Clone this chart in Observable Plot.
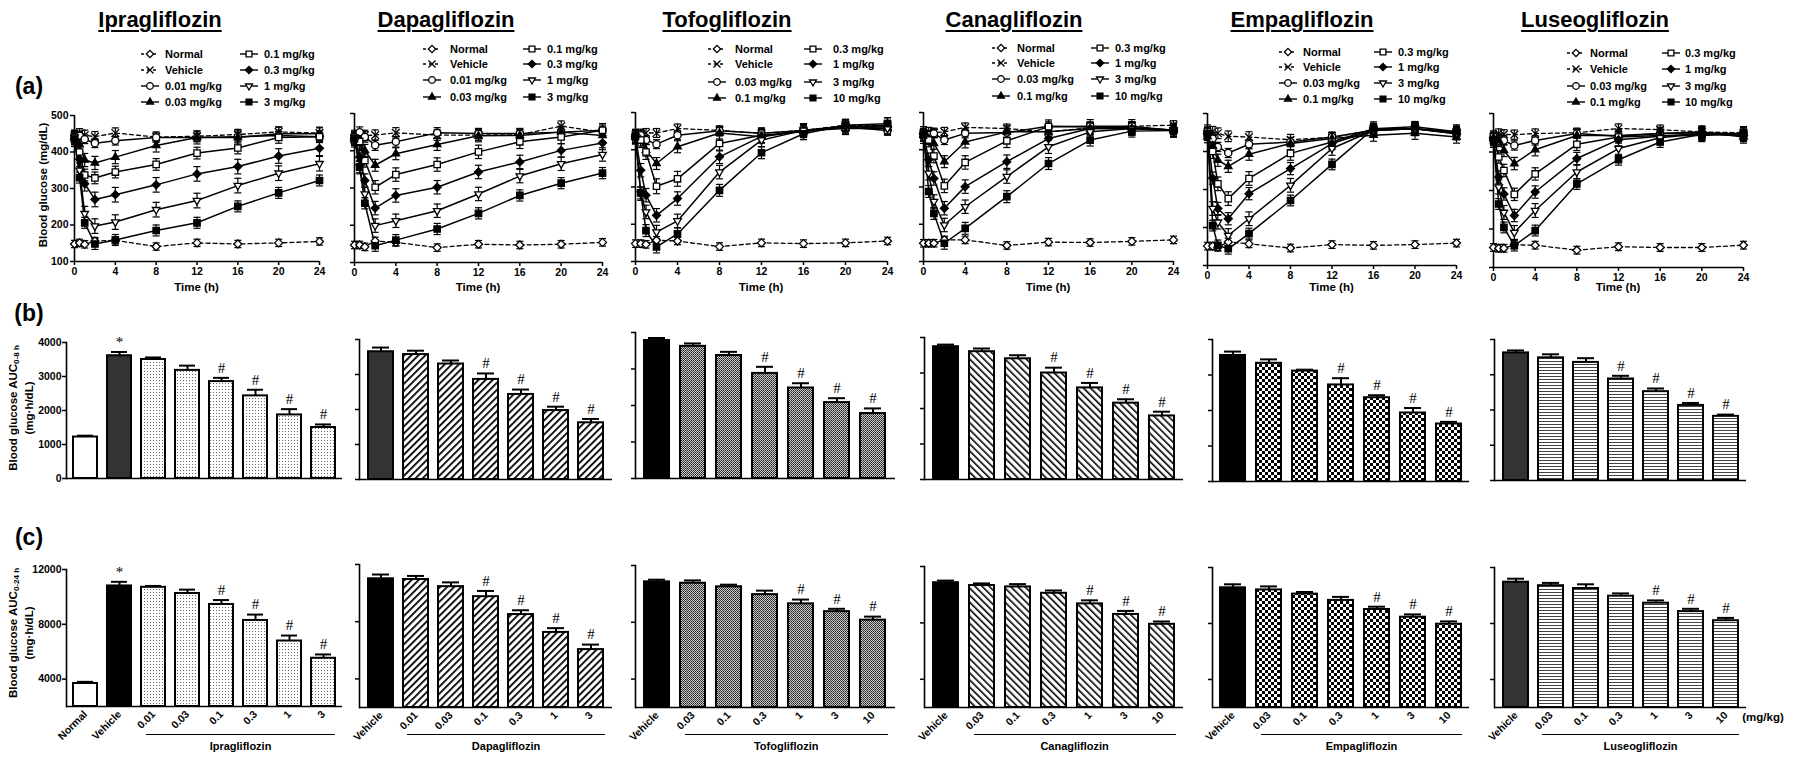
<!DOCTYPE html>
<html><head><meta charset="utf-8">
<script src="https://cdn.jsdelivr.net/npm/d3@7"></script>
<script src="https://cdn.jsdelivr.net/npm/@observablehq/plot@0.6"></script>
<style>
body{margin:0;background:#fff;}
#fig{position:relative;width:1800px;height:759px;overflow:hidden;font-family:"Liberation Sans",Arial,sans-serif;font-weight:bold;color:#000;background:#fff;}
.abs{position:absolute;white-space:nowrap;line-height:1;}
.title{font-size:22px;text-decoration:underline;text-decoration-thickness:2px;text-underline-offset:3px;}
.plab{font-size:23px;}
.leg{font-size:11px;}
.ylab{font-size:11.5px;text-align:center;line-height:1.35;}
.ylab sub{font-size:8px;vertical-align:-2px;line-height:0;}
</style></head>
<body>
<svg width="0" height="0" style="position:absolute">
<defs>
<pattern id="pDots" width="3" height="3" patternUnits="userSpaceOnUse"><rect width="3" height="3" fill="#fff"/><rect x="1" y="1" width="1" height="1" fill="#666"/></pattern>
<pattern id="pHatchR" width="5" height="5" patternUnits="userSpaceOnUse" patternTransform="rotate(45)"><rect width="5" height="5" fill="#fff"/><rect width="1.8" height="5" fill="#000"/></pattern>
<pattern id="pGrey" width="2" height="2" patternUnits="userSpaceOnUse"><rect width="2" height="2" fill="#c8c8c8"/><rect width="1" height="1" fill="#222"/><rect x="1" y="1" width="1" height="1" fill="#444"/></pattern>
<pattern id="pHatchL" width="5" height="5" patternUnits="userSpaceOnUse" patternTransform="rotate(-45)"><rect width="5" height="5" fill="#fff"/><rect width="1.6" height="5" fill="#000"/></pattern>
<pattern id="pCheck" width="6" height="6" patternUnits="userSpaceOnUse"><rect width="6" height="6" fill="#fff"/><rect width="3" height="3" fill="#000"/><rect x="3" y="3" width="3" height="3" fill="#000"/></pattern>
<pattern id="pHoriz" width="4" height="3" patternUnits="userSpaceOnUse"><rect width="4" height="3" fill="#fff"/><rect width="4" height="1" fill="#444"/></pattern>
</defs></svg>
<div id="fig"></div>
<script>
// ---------------- DATA ----------------
const drugNames = ["Ipragliflozin","Dapagliflozin","Tofogliflozin","Canagliflozin","Empagliflozin","Luseogliflozin"];
const iprDoses = ["0.01","0.03","0.1","0.3","1","3"];
const dapDoses = ["0.01","0.03","0.1","0.3","1","3"];
const tofDoses = ["0.03","0.1","0.3","1","3","10"];
const canDoses = ["0.03","0.1","0.3","1","3","10"];
const empDoses = ["0.03","0.1","0.3","1","3","10"];
const lusDoses = ["0.03","0.1","0.3","1","3","10"];

const times = [0,0.5,1,2,4,8,12,16,20,24];
const timeTicks = [0,4,8,12,16,20,24];
const glucoseTicks = [100,200,300,400,500];
const auc8Ticks = [0,1000,2000,3000,4000];
const auc24Ticks = [4000,8000,12000];

// Blood glucose (mg/dL); rows: Normal, Vehicle, dose1..dose6
const iprGlucose = [
 [148,151,147,156,158,141,151,148,151,155],
 [445,450,446,442,452,441,443,448,455,452],
 [440,445,435,424,431,440,440,442,445,442],
 [440,420,378,370,386,418,440,440,450,450],
 [440,400,337,329,345,366,397,411,440,442],
 [435,380,313,270,283,310,340,360,389,410],
 [440,350,231,197,208,242,267,308,342,368],
 [435,330,206,148,159,185,206,251,288,322]];
const dapGlucose = [
 [147,147,142,158,154,140,149,147,149,154],
 [433,441,441,442,448,442,442,443,466,450],
 [437,450,437,415,424,448,446,446,450,455],
 [432,419,401,361,392,417,440,441,450,441],
 [428,425,374,302,336,363,397,424,437,455],
 [432,383,320,246,280,302,343,370,401,421],
 [437,356,284,199,212,239,284,332,365,390],
 [432,356,259,145,160,190,232,280,313,340]];
const tofGlucose = [
 [148,148,146,157,155,140,150,148,150,155],
 [439,443,445,445,457,452,444,452,466,463],
 [435,439,426,415,439,451,444,452,461,452],
 [435,426,399,363,408,445,435,451,457,457],
 [435,426,394,302,322,417,439,448,461,466],
 [435,345,278,224,269,381,436,452,463,461],
 [435,282,233,179,209,340,426,452,463,457],
 [435,284,183,139,174,291,392,443,466,470]];
const canGlucose = [
 [149,149,149,158,158,143,152,151,154,158],
 [444,448,446,448,460,457,448,459,463,466],
 [444,439,444,426,444,446,463,461,459,453],
 [439,430,417,368,421,448,448,457,457,453],
 [444,426,383,303,366,424,462,463,463,452],
 [444,373,323,243,301,368,430,457,457,453],
 [435,337,261,198,247,328,408,448,457,452],
 [439,288,229,149,189,274,363,426,450,452]];
const empGlucose = [
 [151,151,148,162,157,146,155,153,155,159],
 [443,452,448,440,438,431,437,456,460,449],
 [443,434,412,396,419,425,438,456,460,447],
 [439,415,377,361,393,421,434,443,448,438],
 [452,400,315,276,329,395,425,460,460,452],
 [447,330,250,223,289,355,421,456,460,447],
 [447,250,214,179,223,311,408,456,460,449],
 [447,205,153,144,184,271,366,460,465,452]];
const lusGlucose = [
 [152,150,150,159,158,145,154,152,152,158],
 [439,448,446,445,448,450,461,458,452,450],
 [439,430,430,417,430,448,441,448,450,446],
 [435,430,404,370,406,443,443,448,452,439],
 [439,387,352,290,343,420,439,443,443,448],
 [435,335,291,235,296,383,432,441,448,443],
 [430,309,243,191,248,348,409,437,448,448],
 [430,265,204,157,196,317,380,426,446,443]];
// typical SEM per group
const iprGlucoseErr = [10,14,12,18,16,20,20,15];
const dapGlucoseErr = [10,14,14,16,18,18,18,15];
const tofGlucoseErr = [10,12,12,16,20,18,18,16];
const canGlucoseErr = [10,12,12,16,18,18,18,16];
const empGlucoseErr = [10,14,12,16,18,16,18,14];
const lusGlucoseErr = [10,12,12,16,16,16,18,14];

// AUC 0-8 h (mg·h/dL)
const iprAuc8 = [1220,3610,3500,3180,2850,2430,1870,1500];
const iprAuc8Err = [40,110,60,140,110,180,170,90];
const iprAuc8Sig = ["","*","","","#","#","#","#"];
const dapAuc8 = [3650,3570,3300,2860,2430,1970,1620];
const dapAuc8Err = [120,110,100,170,140,110,110];
const dapAuc8Sig = ["","","","#","#","#","#"];
const tofAuc8 = [3780,3620,3370,2880,2480,2080,1780];
const tofAuc8Err = [70,80,100,180,130,120,140];
const tofAuc8Sig = ["","","","#","#","#","#"];
const canAuc8 = [3740,3600,3400,3000,2580,2150,1790];
const canAuc8Err = [60,90,100,150,140,110,120];
const canAuc8Sig = ["","","","#","#","#","#"];
const empAuc8 = [3550,3330,3110,2720,2360,1930,1620];
const empAuc8Err = [110,110,40,190,70,140,60];
const empAuc8Sig = ["","","","#","#","#","#"];
const lusAuc8 = [3620,3480,3350,2880,2520,2130,1820];
const lusAuc8Err = [70,100,120,90,90,70,50];
const lusAuc8Sig = ["","","","#","#","#","#"];

// AUC 0-24 h (mg·h/dL)
const iprAuc24 = [3680,10800,10700,10250,9450,8280,6780,5520];
const iprAuc24Err = [120,300,100,280,320,430,400,280];
const iprAuc24Sig = ["","*","","","#","#","#","#"];
const dapAuc24 = [11000,10950,10450,9750,8500,7250,6050];
const dapAuc24Err = [300,250,300,400,300,300,350];
const dapAuc24Sig = ["","","","#","#","#","#"];
const tofAuc24 = [10850,10750,10500,9950,9300,8750,8150];
const tofAuc24Err = [150,200,150,280,300,200,250];
const tofAuc24Sig = ["","","","","#","#","#"];
const canAuc24 = [10850,10650,10550,10100,9350,8600,7900];
const canAuc24Err = [150,150,200,200,250,250,200];
const canAuc24Sig = ["","","","","#","#","#"];
const empAuc24 = [10550,10400,10100,9650,9000,8450,7950];
const empAuc24Err = [250,250,150,250,200,200,200];
const empAuc24Sig = ["","","","","#","#","#"];
const lusAuc24 = [10950,10700,10500,9950,9450,8850,8200];
const lusAuc24Err = [250,200,300,200,200,200,200];
const lusAuc24Sig = ["","","","","#","#","#"];

// ---------------- TABLES built from the arrays ----------------
const doses = [iprDoses,dapDoses,tofDoses,canDoses,empDoses,lusDoses];
const glucose = [iprGlucose,dapGlucose,tofGlucose,canGlucose,empGlucose,lusGlucose];
const glucoseErr = [iprGlucoseErr,dapGlucoseErr,tofGlucoseErr,canGlucoseErr,empGlucoseErr,lusGlucoseErr];
const auc8 = [[iprAuc8,iprAuc8Err,iprAuc8Sig],[dapAuc8,dapAuc8Err,dapAuc8Sig],[tofAuc8,tofAuc8Err,tofAuc8Sig],[canAuc8,canAuc8Err,canAuc8Sig],[empAuc8,empAuc8Err,empAuc8Sig],[lusAuc8,lusAuc8Err,lusAuc8Sig]];
const auc24 = [[iprAuc24,iprAuc24Err,iprAuc24Sig],[dapAuc24,dapAuc24Err,dapAuc24Sig],[tofAuc24,tofAuc24Err,tofAuc24Sig],[canAuc24,canAuc24Err,canAuc24Sig],[empAuc24,empAuc24Err,empAuc24Sig],[lusAuc24,lusAuc24Err,lusAuc24Sig]];

// ---------------- LAYOUT / STYLE ----------------
const FONT = '"Liberation Sans", Arial, sans-serif';
const layoutA = [[74,319,115,261],[354,602,113,262],[635,887,112,261],[923,1173,112,261],[1207,1456,113,265],[1493,1743,113,267]];
const layoutB = [[66,342,342,478],[359,612,339,479],[635,895,332,478],[924,1183,337,479],[1212,1469,339,481],[1494,1746,339,480]];
const layoutC = [[66,342,569,706],[359,612,564,707],[635,895,565,707],[924,1183,566,707],[1212,1469,567,707],[1494,1746,567,707]];
const titleX = [160,446,727,1014,1302,1595];
const legendPos = [
 {c1:150,t1:165,c2:249,t2:264,y:[54,70,86,102]},
 {c1:432,t1:450,c2:532,t2:547,y:[49,64,80,97]},
 {c1:717,t1:735,c2:813,t2:833,y:[49,64,82,98]},
 {c1:1001,t1:1017,c2:1100,t2:1115,y:[48,63,79,96]},
 {c1:1288,t1:1303,c2:1383,t2:1398,y:[52,67,83,99]},
 {c1:1576,t1:1590,c2:1671,t2:1685,y:[53,69,86,102]}];
const patternIds = ["pDots","pHatchR","pGrey","pHatchL","pCheck","pHoriz"];
const vehicleFillB = ["#333","#333","#000","#000","#000","#333"];
const vehicleFillC = ["#000","#000","#000","#000","#000","#333"];
const groupStyle = [
 {sym:"diamond2", fill:"white", dash:true},
 {sym:"times", fill:"none", dash:true},
 {sym:"circle", fill:"white"},
 {sym:"triangle2", fill:"black"},
 {sym:"square", fill:"white"},
 {sym:"diamond2", fill:"black"},
 {sym:"triangle2", fill:"white", rotate:180},
 {sym:"square", fill:"black"}];
const d3Sym = {diamond2:d3.symbolDiamond2, times:d3.symbolTimes, circle:d3.symbolCircle, triangle2:d3.symbolTriangle2, square:d3.symbolSquare};

const fig = document.getElementById("fig");
function place(svg, left, top){
  svg.style.position = "absolute";
  svg.style.left = left + "px"; svg.style.top = top + "px";
  svg.style.overflow = "visible";
  fig.appendChild(svg);
}
function label(html, x, y, cls, transform){
  const d = document.createElement("div");
  d.className = "abs " + (cls||"");
  d.innerHTML = html; d.style.left = x + "px"; d.style.top = y + "px";
  d.style.transform = transform || "translate(-50%,-50%)";
  fig.appendChild(d); return d;
}
const capSym = {draw(ctx, size){ const w = Math.sqrt(size)/2; ctx.moveTo(-w,0); ctx.lineTo(w,0); }};
const baseStyle = {fontFamily: FONT, fontWeight: "bold", fontSize: "10.5px", color: "#000", background: "none", overflow: "visible"};

// ---------------- PANEL (a) ----------------
function timePlot(i){
  const [x0,x1,y0,y1] = layoutA[i];
  const errs = glucoseErr[i];
  const data = glucose[i].flatMap((vals,g) => vals.map((v,k) => ({g, t: times[k], v, e: errs[g]})));
  const mL = 45, mR = 12, mT = 8, mB = 32;
  const marks = [
    Plot.ruleX([0], {stroke:"black", strokeWidth:1.6}),
    Plot.ruleY([100], {stroke:"black", strokeWidth:1.6}),
    Plot.axisY({ticks: glucoseTicks, tickSize: 4, tickPadding: 2, strokeWidth: 1.5, label: null, tickFormat: i === 0 ? d => String(d) : () => ""}),
    Plot.axisX({ticks: timeTicks, tickSize: 4, tickPadding: 2, strokeWidth: 1.5, label: null, tickFormat: d => String(d)}),
    Plot.ruleX(data, {x:"t", y1: d => d.v - d.e, y2: d => d.v + d.e, stroke:"black", strokeWidth:1.2}),
    Plot.dot(data, {x:"t", y: d => d.v + d.e, symbol: capSym, r: 4, stroke:"black", strokeWidth:1.2}),
    Plot.dot(data, {x:"t", y: d => d.v - d.e, symbol: capSym, r: 4, stroke:"black", strokeWidth:1.2}),
    Plot.line(data.filter(d => d.g < 2), {x:"t", y:"v", z:"g", stroke:"black", strokeWidth:1.3, strokeDasharray:"4,3"}),
    Plot.line(data.filter(d => d.g >= 2), {x:"t", y:"v", z:"g", stroke:"black", strokeWidth:1.5}),
    ...groupStyle.map((s,g) => Plot.dot(data.filter(d => d.g === g), {x:"t", y:"v", symbol: s.sym, r: 3.6, fill: s.fill, stroke:"black", strokeWidth:1.3, rotate: s.rotate || 0}))
  ];
  const svg = Plot.plot({
    width: x1 - x0 + mL + mR, height: y1 - y0 + mT + mB,
    marginLeft: mL, marginRight: mR, marginTop: mT, marginBottom: mB,
    x: {domain: [0,24]}, y: {domain: [100,500]},
    style: baseStyle, marks
  });
  place(svg, x0 - mL, y0 - mT);
  label("Time (h)", (x0 + x1)/2, 288, "leg").style.fontSize = "11.5px";
}

// ---------------- PANELS (b) and (c) ----------------
function barPlot(i, which){
  const isB = which === "b";
  const [r0,r1,yT,yB] = isB ? layoutB[i] : layoutC[i];
  const [vals, errs, sig] = isB ? auc8[i] : auc24[i];
  const cats = (i === 0 ? ["Normal","Vehicle"] : ["Vehicle"]).concat(doses[i]);
  const data = cats.map((c,k) => ({c, v: vals[k], e: errs[k], s: sig[k]}));
  const dom = isB ? [0,4000] : [2000,12000];
  const vf = isB ? vehicleFillB[i] : vehicleFillC[i];
  const fillOf = d => d.c === "Normal" ? "#ffffff" : d.c === "Vehicle" ? vf : `url(#${patternIds[i]})`;
  const mL = 40, mR = 6, mT = 20, mB = isB ? 6 : 52;
  const marks = [
    Plot.barY(data, {x:"c", y1: dom[0], y2:"v", fill: fillOf, stroke:"black", strokeWidth:2}),
    Plot.ruleX(data, {x:"c", y1:"v", y2: d => d.v + d.e, stroke:"black", strokeWidth:2}),
    Plot.tickY(data, {x:"c", y: d => d.v + d.e, stroke:"black", strokeWidth:2, insetLeft:4, insetRight:4}),
    Plot.text(data, {x:"c", y: d => d.v + d.e, text:"s", dy: -10, fill:"black", fontFamily:'"Liberation Serif", serif', fontWeight:"normal", fontSize: 15}),
    Plot.frame({anchor:"left", stroke:"black", strokeWidth:1.6}),
    Plot.ruleY([dom[0]], {stroke:"black", strokeWidth:1.6}),
    Plot.axisY({ticks: isB ? auc8Ticks : auc24Ticks, tickSize: 4, tickPadding: 1, strokeWidth:1.5, label:null, tickFormat: i === 0 ? d => String(d) : () => ""})
  ];
  if (!isB) marks.push(Plot.axisX({tickSize:0, tickRotate:-45, tickPadding:6, label:null, fontSize:10.5}));
  const svg = Plot.plot({
    width: r1 - r0 + mL + mR, height: yB - yT + mT + mB,
    marginLeft: mL, marginRight: mR, marginTop: mT, marginBottom: mB,
    x: {type:"band", domain: cats, paddingInner: 0.3, paddingOuter: 0.2, axis: isB ? null : undefined},
    y: {domain: dom},
    color: {type:"identity"},
    style: baseStyle, marks
  });
  place(svg, r0 - mL, yT - mT);
  if (!isB){
    const step = (r1 - r0) / (cats.length - 0.3 + 0.4);
    const firstDose = r0 + step*(0.2 + 0.35) + step*(cats.length - 6);
    const lastRight = r1 - step*0.2;
    const line = document.createElement("div");
    line.className = "abs";
    Object.assign(line.style, {left: (firstDose - 7) + "px", top: "734px", width: (lastRight - firstDose + 7) + "px", height: "0", borderTop: "1.6px solid #000"});
    fig.appendChild(line);
    label(drugNames[i], (firstDose - 7 + lastRight)/2, 746, "leg");
  }
}

// ---------------- LEGENDS ----------------
function legend(i){
  const P = legendPos[i];
  const names = ["Normal","Vehicle"].concat(doses[i].map(d => d + " mg/kg"));
  names.forEach((nm,g) => {
    const col = g < 4 ? 0 : 1, row = g % 4;
    const cx = col === 0 ? P.c1 : P.c2, tx = col === 0 ? P.t1 : P.t2, y = P.y[row];
    const s = groupStyle[g];
    const svg = d3.create("svg").attr("width", 22).attr("height", 12).style("position","absolute").style("left",(cx-11)+"px").style("top",(y-6)+"px").style("overflow","visible");
    svg.append("line").attr("x1",2).attr("x2",20).attr("y1",6).attr("y2",6).attr("stroke","black").attr("stroke-width",1.4).attr("stroke-dasharray", s.dash ? "3,3" : null);
    svg.append("path").attr("d", d3.symbol(d3Sym[s.sym], Math.PI*3.3*3.3)()).attr("transform",`translate(11,6) rotate(${s.rotate||0})`).attr("fill", s.fill).attr("stroke","black").attr("stroke-width",1.3);
    fig.appendChild(svg.node());
    label(nm, tx, y, "leg", "translateY(-50%)");
  });
}

// ---------------- BUILD ----------------
drugNames.forEach((nm,i) => {
  label(nm, titleX[i], 20, "title");
  legend(i);
  timePlot(i);
  barPlot(i, "b");
  barPlot(i, "c");
});
label("(a)", 29, 86, "plab");
label("(b)", 29, 313, "plab");
label("(c)", 29, 537, "plab");
label("Blood glucose (mg/dL)", 44, 185, "ylab", "translate(-50%,-50%) rotate(-90deg)");
label("Blood glucose AUC<sub>0-8 h</sub><br>(mg·h/dL)", 22, 408, "ylab", "translate(-50%,-50%) rotate(-90deg)");
label("Blood glucose AUC<sub>0-24 h</sub><br>(mg·h/dL)", 22, 633, "ylab", "translate(-50%,-50%) rotate(-90deg)");
label("(mg/kg)", 1763, 718, "leg").style.fontSize = "11.5px";
</script>
</body></html>
